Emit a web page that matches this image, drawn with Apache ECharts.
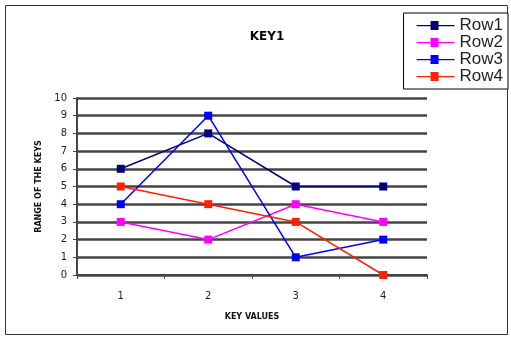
<!DOCTYPE html>
<html>
<head>
<meta charset="utf-8">
<script src="https://cdn.jsdelivr.net/npm/echarts@6/dist/echarts.min.js"></script>
<style>
  html, body { margin: 0; padding: 0; background: #fff; }
  #chart { width: 511px; height: 338px; }
</style>
</head>
<body>
<div id="chart"></div>
<script>
// Category labels on the x axis
const categories = ['1', '2', '3', '4'];

// One array per row of keys
const row1 = [6, 8, 5, 5];
const row2 = [3, 2, 4, 3];
const row3 = [4, 9, 1, 2];
const row4 = [5, 4, 3, 0];

const seriesNames = ['Row1', 'Row2', 'Row3', 'Row4'];
const seriesColors = ['#000080', '#ff00ff', '#0000ff', '#ff2000'];
const seriesData = [row1, row2, row3, row4];

const chart = echarts.init(document.getElementById('chart'));

chart.setOption({
  animation: false,
  backgroundColor: '#ffffff',
  title: {
    text: 'KEY1',
    left: 262,
    top: 26,
    textAlign: 'center',
    textStyle: { fontFamily: 'DejaVu Sans', fontWeight: 'bold', fontSize: 12, color: '#000' }
  },
  legend: {
    orient: 'vertical',
    right: 3,
    top: 13,
    padding: [4, 5, 4, 13],
    itemGap: 0,
    itemWidth: 38,
    itemHeight: 17,
    borderColor: '#000',
    borderWidth: 1,
    backgroundColor: '#fff',
    borderRadius: 0,
    icon: 'path://M0,8 L14,8 L14,4 L22,4 L22,8 L38,8 L38,9.2 L22,9.2 L22,13 L14,13 L14,9.2 L0,9.2 Z',
    textStyle: { fontFamily: 'Liberation Sans', fontSize: 17, color: '#222' },
    data: seriesNames
  },
  graphic: [{
    type: 'rect',
    shape: { x: 5.5, y: 5.5, width: 502, height: 329 },
    style: { fill: 'none', stroke: '#333', lineWidth: 1 },
    z: -1
  }],
  grid: { left: 77, right: 84, top: 98, bottom: 63 },
  xAxis: {
    type: 'category',
    data: categories,
    boundaryGap: true,
    name: 'KEY VALUES',
    nameLocation: 'middle',
    nameGap: 38,
    nameTextStyle: { fontFamily: 'DejaVu Sans', fontWeight: 'bold', fontSize: 8, color: '#111' },
    axisLine: { lineStyle: { color: '#444', width: 2 } },
    axisTick: { show: true, length: 4, lineStyle: { color: '#444' } },
    axisLabel: { fontFamily: 'DejaVu Sans', fontSize: 10, color: '#222', margin: 16 }
  },
  yAxis: {
    type: 'value',
    min: 0,
    max: 10,
    interval: 1,
    name: 'RANGE OF THE KEYS',
    nameLocation: 'middle',
    nameGap: 33,
    nameTextStyle: { fontFamily: 'DejaVu Sans', fontWeight: 'bold', fontSize: 8, color: '#111' },
    axisLine: { show: true, lineStyle: { color: '#444', width: 2 } },
    axisTick: { show: true, length: 4, lineStyle: { color: '#444' } },
    axisLabel: { fontFamily: 'DejaVu Sans', fontSize: 10, color: '#222', margin: 10 },
    splitLine: { show: true, lineStyle: { color: '#444', width: 2.5 } }
  },
  series: seriesData.map((d, i) => ({
    name: seriesNames[i],
    type: 'line',
    data: d,
    symbol: 'rect',
    symbolSize: 8,
    color: seriesColors[i],
    lineStyle: { width: 1.5, color: seriesColors[i] },
    itemStyle: { color: seriesColors[i] }
  }))
});
</script>
</body>
</html>
